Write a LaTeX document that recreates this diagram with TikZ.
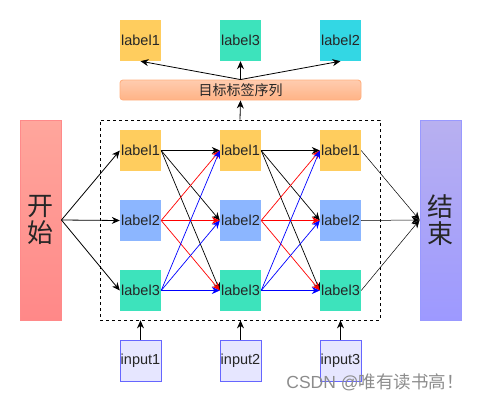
\documentclass[tikz,border=0pt]{standalone}
\usepackage{fontspec}
\setmainfont{Liberation Sans}
\newfontfamily\cjk{Noto Sans CJK SC}
\usetikzlibrary{arrows.meta}

\definecolor{lblyellow}{HTML}{FFCD5E}
\definecolor{lblblue}{HTML}{8CB6FF}
\definecolor{lblgreen}{HTML}{3DE3BC}
\definecolor{lblcyan}{HTML}{33D7E4}
\definecolor{inpfill}{HTML}{E6E6FF}
\definecolor{inpdraw}{HTML}{6666FF}
\definecolor{arrred}{HTML}{FF0000}
\definecolor{arrblue}{HTML}{0000FF}

\tikzset{
  lbl/.style={minimum size=41pt, inner sep=0pt, text=black!85, font=\fontsize{14.5}{16}\selectfont},
  inp/.style={lbl, fill=inpfill, draw=inpdraw, line width=0.9pt},
  tall/.style={minimum width=41pt, minimum height=200pt, inner sep=0pt, align=center,
    line width=0.9pt, text=black!85, font=\cjk\fontsize{26}{27}\selectfont},
  arr/.style={-{Stealth[length=8pt,width=7pt]}, line width=0.8pt}
}

\begin{document}
\begin{tikzpicture}[x=1pt, y=-1pt]
    \useasboundingbox (0,0) rectangle (482,402);

    % top row of labels and the sequence bar
    \node[lbl, fill=lblyellow] (top1) at (140.5,40.5) {label1};
    \node[lbl, fill=lblgreen] (top2) at (240.5,40.5) {label3};
    \node[lbl, fill=lblcyan] (top3) at (340.5,40.5) {label2};
    \node[minimum width=241pt, minimum height=20pt, inner sep=0pt, rounded corners=3pt,
      top color={rgb,255:red,255;green,204;blue,175}, bottom color={rgb,255:red,255;green,179;blue,134},
      draw={rgb,255:red,255;green,176;blue,128}, line width=0.9pt, text=black!85,
      font=\cjk\fontsize{14}{15}\selectfont] (seq) at (240.5,90) {目标标签序列};

    % start / end
    \node[tall, top color={rgb,255:red,255;green,166;blue,156}, bottom color={rgb,255:red,255;green,136;blue,136},
      draw={rgb,255:red,255;green,138;blue,138}] (start) at (40.5,220) {开\\始};
    \node[tall, top color={rgb,255:red,184;green,176;blue,240}, bottom color={rgb,255:red,157;green,153;blue,255},
      draw={rgb,255:red,153;green,153;blue,255}] (end) at (440.5,220) {结\\束};

    % dashed frame
    \node[draw, dashed, line width=0.8pt, minimum width=280pt, minimum height=200pt, inner sep=0pt] (frame) at (240,220) {};

    % grid of labels and inputs
    \foreach \c/\x in {1/140.5, 2/240.5, 3/340.5} {
        \foreach \r/\y/\t/\col in {1/150.5/label1/lblyellow, 2/220.5/label2/lblblue, 3/290.5/label3/lblgreen}
            \node[lbl, fill=\col] (n\c\r) at (\x,\y) {\t};
        \node[inp] (in\c) at (\x,360.5) {input\c};
        \draw[arr] (in\c) -- (in\c |- frame.south);
    }

    % connectors
    \foreach \r in {1,2,3} {
        \draw[arr] (start.east) -- (n1\r.west);
        \draw[arr, line width=0.5pt] (n3\r.east) -- (end.west);
    }
    \foreach \a/\b in {1/2, 2/3} {
        \foreach \s/\col in {1/black, 2/arrred, 3/arrblue} {
            \foreach \t in {1,2,3}
                \draw[arr, \col, line width=0.7pt] (n\a\s.east) -- (n\b\t.west);
        }
    }
    \draw[arr] (frame.north) -- (seq.south);
    \foreach \i in {1,2,3}
        \draw[arr] (seq.north) -- (top\i.south);

    \node[text=black!45, font=\fontsize{17.5}{19}\selectfont] (mark) at (375,382) {CSDN @{\cjk 唯有读书高！}};
\end{tikzpicture}
\end{document}
